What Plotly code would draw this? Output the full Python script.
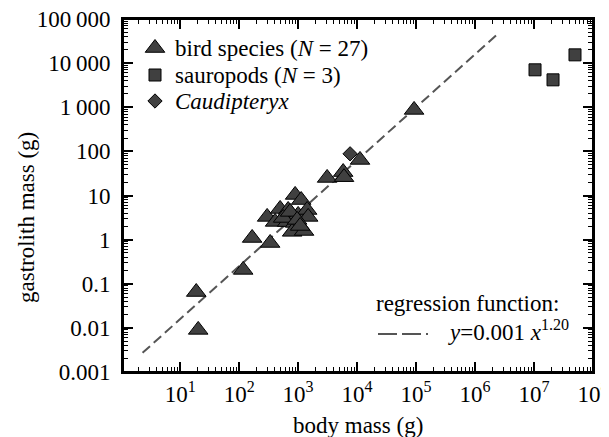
import numpy as np
import plotly.graph_objects as go

# ---- data ----
bird_body = [18.7, 20.2, 117, 166, 335, 298, 407, 495, 651, 677, 889, 1125, 889, 1000,
             1421, 1479, 791, 1260, 3100, 5800, 6000, 11200, 92500, 557, 731, 961, 1081]
bird_gastro = [0.065, 0.009, 0.206, 1.09, 0.84, 3.27, 2.52, 4.96, 2.5, 4.7, 10.3, 7.9, 2.39, 3.63,
               4.7, 3.27, 1.5, 1.57, 25, 34, 26, 64, 870, 3.1, 4.25, 2.8, 2.04]
sauro_body = [1.04e7, 2.1e7, 4.95e7]
sauro_gastro = [7050, 4180, 15400]
caud_body = [7600]
caud_gastro = [88]
reg_a, reg_b = 0.001, 1.20
reg_x = [2.3, 2.3e6]

x_tickvals = [10, 100, 1000, 1e4, 1e5, 1e6, 1e7, 1e8]
x_ticktext = ["10<sup>1</sup>", "10<sup>2</sup>", "10<sup>3</sup>", "10<sup>4</sup>",
              "10<sup>5</sup>", "10<sup>6</sup>", "10<sup>7</sup>", "10<sup>8</sup>"]
y_tickvals = [0.001, 0.01, 0.1, 1, 10, 100, 1000, 10000, 100000]
y_ticktext = ["0.001", "0.01", "0.1", "1", "10", "100", "1\u2009000", "10\u2009000", "100\u2009000"]

legend_names = ["bird species (<i>N</i> = 27)", "sauropods (<i>N</i> = 3)", "<i>Caudipteryx</i>"]

FONT = ("Times New Roman, Liberation Serif, Tinos, Nimbus Roman, Noto Serif, "
        "DejaVu Serif, FreeSerif, Times, serif")
FS = 23
FILL = "#404040"
LINEC = "#555555"

# page is offset by the 8px default body margin; plot area in page px: 123..593 x 19..372
W, H = 601, 429
L, R, T, B = 115, 16, 11, 65
PW, PH = W - L - R, H - T - B
Y_RANGE = [-3, 5]


def px(xp):   # page x pixel -> paper
    return (xp - 8 - L) / PW


def py(yp):   # page y pixel -> paper
    return (H - B - (yp - 8)) / PH


tri = dict(symbol="triangle-up", size=17, color=FILL, line=dict(color="black", width=1))
sq = dict(symbol="square", size=12, color=FILL, line=dict(color="black", width=1))
dia = dict(symbol="diamond", size=11, color=FILL, line=dict(color="black", width=1))

fig = go.Figure()
# regression line on the main axes (drawn underneath)
rx = np.geomspace(reg_x[0], reg_x[1], 50)
fig.add_trace(go.Scatter(x=rx, y=reg_a * rx ** reg_b, mode="lines",
                         line=dict(color=LINEC, width=2, dash="10px,5px"),
                         showlegend=False, hoverinfo="skip"))
# data markers on y3 (same log range as y; this axis also carries the tick labels)
fig.add_trace(go.Scatter(x=bird_body, y=bird_gastro, yaxis="y3", mode="markers",
                         name=legend_names[0], marker=tri, showlegend=False))
fig.add_trace(go.Scatter(x=sauro_body, y=sauro_gastro, yaxis="y3", mode="markers",
                         name=legend_names[1], marker=sq, showlegend=False))
fig.add_trace(go.Scatter(x=caud_body, y=caud_gastro, yaxis="y3", mode="markers",
                         name=legend_names[2], marker=dia, showlegend=False))

# hand-placed legend (symbols on an overlay 0..1 axis, texts as annotations)
leg_rows = [48, 75, 101]
for yy, mk, name in zip(leg_rows, [tri, sq, dia], legend_names):
    fig.add_trace(go.Scatter(x=[px(155)], y=[py(yy)], xaxis="x2", yaxis="y2", mode="markers",
                             marker=mk, showlegend=False, hoverinfo="skip"))
    fig.add_annotation(xref="paper", yref="paper", x=px(173), y=py(yy), xanchor="left",
                       yanchor="middle", text=name, showarrow=False,
                       font=dict(family=FONT, size=FS, color="black"))

axis_common = dict(type="log", showline=True, linecolor="black", linewidth=2, mirror="ticks",
                   ticks="inside", ticklen=10, tickwidth=1.5, tickcolor="black",
                   showgrid=False, zeroline=False, automargin=False, ticklabeloverflow="allow",
                   minor=dict(ticks="inside", ticklen=5, tickwidth=1, tickcolor="black", dtick="D1"),
                   tickfont=dict(family=FONT, size=FS, color="black"))

fig.update_xaxes(**axis_common, range=[0.03, 8.0], tickvals=x_tickvals, ticktext=x_ticktext,
                 ticklabelstandoff=0)
fig.update_yaxes(**axis_common, range=Y_RANGE, tickvals=y_tickvals, ticktext=y_ticktext,
                 showticklabels=False)

# frame
fig.add_shape(type="rect", xref="paper", yref="paper", x0=0, x1=1, y0=0, y1=1,
              line=dict(color="black", width=2), layer="above")

# axis titles
fig.add_annotation(xref="paper", yref="paper", x=px(358), y=py(425), xanchor="center", yanchor="middle",
                   text="body mass (g)", showarrow=False, font=dict(family=FONT, size=FS, color="black"))
fig.add_annotation(xref="paper", yref="paper", x=px(26), y=py(218), xanchor="center", yanchor="middle",
                   text="gastrolith mass (g)", showarrow=False, textangle=-90,
                   font=dict(family=FONT, size=FS, color="black"))

# regression annotation
fig.add_annotation(xref="paper", yref="paper", x=px(561), y=py(303), xanchor="right", yanchor="middle",
                   text="regression function:", showarrow=False,
                   font=dict(family=FONT, size=FS, color="black"))
fig.add_annotation(xref="paper", yref="paper", x=px(571), y=py(330), xanchor="right", yanchor="middle",
                   text="<i>y</i>=0.001 <i>x</i><sup>1.20</sup>", showarrow=False,
                   font=dict(family=FONT, size=FS, color="black"))
fig.add_shape(type="line", xref="paper", yref="paper", x0=px(378), x1=px(428), y0=py(334), y1=py(334),
              line=dict(color=LINEC, width=2, dash="19px,5px"))

fig.update_layout(
    width=W, height=H,
    margin=dict(l=L, r=R, t=T, b=B),
    paper_bgcolor="white", plot_bgcolor="white",
    font=dict(family=FONT, size=FS, color="black"),
    showlegend=False,
    xaxis2=dict(overlaying="x", range=[0, 1], visible=False, fixedrange=True),
    yaxis2=dict(overlaying="y", range=[0, 1], visible=False, fixedrange=True),
    # tick-label axis at the frame; invisible outside ticks set the label gap
    yaxis3=dict(overlaying="y", anchor="free", position=0, side="left", type="log",
                range=Y_RANGE, tickvals=y_tickvals, ticktext=y_ticktext, showline=False,
                ticks="outside", ticklen=8, tickcolor="rgba(0,0,0,0)",
                showgrid=False, zeroline=False, automargin=False,
                ticklabeloverflow="allow", fixedrange=True,
                tickfont=dict(family=FONT, size=FS, color="black")),
)

fig.write_html("out.html")
